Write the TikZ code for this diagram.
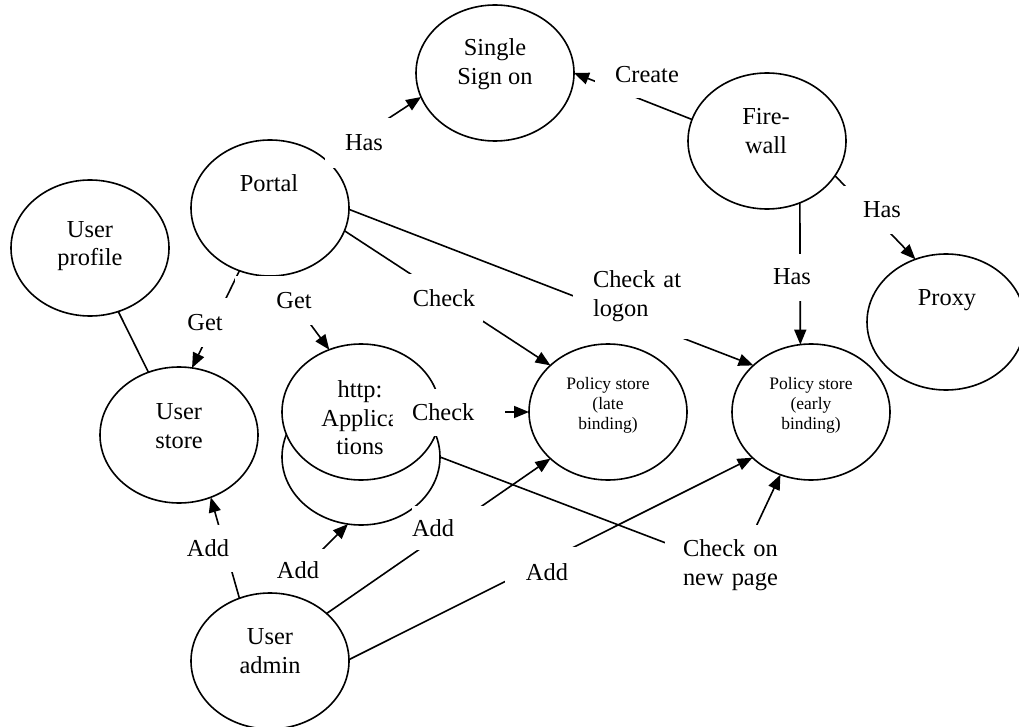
\documentclass[tikz,border=0pt]{standalone}
\usepackage{fontspec}
\setmainfont{Liberation Serif}
\usetikzlibrary{arrows.meta,shapes.geometric}
\pgfdeclarelayer{back}
\pgfdeclarelayer{mid}
\pgfsetlayers{back,mid,main}
\begin{document}
\begin{tikzpicture}[x=1pt,y=-1pt,
  bubble/.style={draw, ellipse, line width=1.6pt, fill=white, inner sep=0pt, outer sep=0pt,
                 minimum width=158pt, minimum height=136pt},
  big/.style={font=\fontsize{24.4}{28.5}\selectfont},
  small/.style={font=\fontsize{17.5}{20}\selectfont},
  caption/.style={big, align=center, inner sep=0pt},
  lbl/.style={big, fill=white, inner sep=0pt, outer sep=0pt, align=center},
  link/.style={line width=1.6pt},
  arr/.style={link, -{Triangle[length=15pt,width=12pt]}}
]
\useasboundingbox (0,0) rectangle (1019,727);
\clip (0,0) rectangle (1019,727);

% bubbles and their captions
\begin{pgfonlayer}{back}
\node[bubble] (sso)    at (495,73)  {};
\node[bubble] (portal) at (270,208) {};
\node[bubble] (uprof)  at (90,248)  {};
\node[bubble] (ustore) at (179,435) {};
\node[bubble] (http2)  at (361,457) {};
\node[bubble] (http1)  at (361,412) {};
\node[bubble] (fw)     at (767,141) {};
\node[bubble] (proxy)  at (946,322) {};
\node[bubble] (late)   at (608,412) {};
\node[bubble] (early)  at (811,412) {};
\node[bubble] (admin)  at (270,661) {};

\node[caption] (sso-t)    at (495,64)  {Single\\Sign on};
\node[caption] (portal-t) at (269,183) {Portal};
\node[caption] (uprof-t)  at (90,246)  {User\\profile};
\node[caption] (ustore-t) at (179,426) {User\\store};
\node[caption] (http-t)   at (360,418) {http:\\Applica\\tions};
\node[caption] (fw-t)     at (766,131) {Fire-\\wall};
\node[caption] (proxy-t)  at (947,300) {Proxy};
\node[caption, small] (late-t)  at (608,405) {Policy store\\(late\\binding)};
\node[caption, small] (early-t) at (811,405) {Policy store\\(early\\binding)};
\node[caption] (admin-t)  at (270,651) {User\\admin};
\end{pgfonlayer}

% connector labels on white boxes
\node[lbl, minimum width=78pt, minimum height=50pt] (l-has1) at (364,143) {Has};
\node[lbl, minimum width=104pt, minimum height=46pt] (l-create) at (647,75) {Create};
\node[lbl, minimum width=76pt, minimum height=48pt] (l-has2) at (882,210) {Has};
\node[lbl, minimum width=70pt, minimum height=47pt] (l-has3) at (792,277) {Has};
\node[lbl, anchor=west, text width=100pt, inner xsep=20pt, align=left, minimum height=86pt] (l-logon) at (573,296) {Check at\\logon};
\node[lbl, minimum width=78pt, minimum height=48pt] (l-check1) at (444,298) {Check};
\node[lbl, minimum width=70pt, minimum height=49pt] (l-get1) at (205,322.5) {Get};
\node[lbl, minimum width=118pt, minimum height=49pt] (l-get2) at (294,300.5) {Get};
\node[lbl, anchor=west, text width=74pt, inner xsep=19pt, align=left, minimum height=47pt] (l-check2) at (393,412) {Check};
\node[lbl, minimum width=70pt, minimum height=47pt] (l-add1) at (208,548.5) {Add};
\node[lbl, minimum width=74pt, minimum height=42pt] (l-add2) at (298,570) {Add};
\node[lbl, anchor=west, text width=75pt, align=left, minimum height=44pt] (l-add3) at (412,528) {Add};
\node[lbl, minimum width=84pt, minimum height=50pt] (l-add4) at (547,572) {Add};
\node[lbl, anchor=west, text width=110pt, inner xsep=18pt, align=left, minimum height=80pt] (cnp) at (665,565) {Check on\\new page};

% connectors, under the labels
\begin{pgfonlayer}{mid}
\draw[arr]  (portal.41)  -- (sso.198);
\draw[arr]  (fw.164)     -- (sso.0);
\draw[arr]  (fw.333)     -- (proxy.116);
\draw[arr]  (fw.298)     -- (early.99);
\draw[arr]  (portal.359) -- (early.141);
\draw[arr]  (portal.343) -- (late.141);
\draw[arr]  (portal.244) -- (ustore.79);
\draw[arr]  (portal.274) -- (http1.117);
\draw[link] (uprof.294)  -- (ustore.116);
\draw[arr]  (http1.0)    -- (late.180);
\draw[link] (http2.0)    -- (cnp.163);
\draw[arr]  (cnp)        -- (early.244);
\draw[arr]  (admin.116)  -- (ustore.297);
\draw[arr, shorten <=4pt] (admin.83) -- (http2.259);
\draw[arr]  (admin.40)   -- (late.219);
\draw[arr]  (admin.1)    -- (early.218);
\end{pgfonlayer}
\end{tikzpicture}
\end{document}
